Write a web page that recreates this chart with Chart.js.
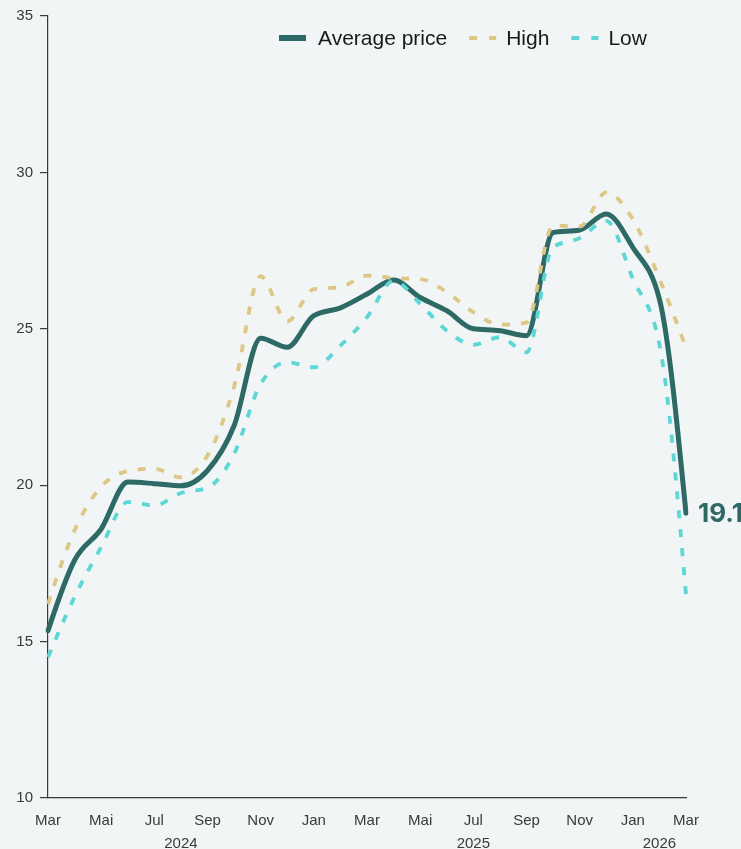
<!DOCTYPE html>
<html>
<head>
<meta charset="utf-8">
<script src="https://cdn.jsdelivr.net/npm/chart.js@4.4.1/dist/chart.umd.min.js"></script>
<style>
  html, body { margin: 0; padding: 0; background: #f1f5f6; }
  #wrap { width: 741px; height: 849px; position: relative; }
</style>
</head>
<body>
<div id="wrap"><canvas id="c"></canvas></div>
<script>
// ---- data ----
const categories = ['2024-03','2024-04','2024-05','2024-06','2024-07','2024-08','2024-09','2024-10','2024-11','2024-12',
  '2025-01','2025-02','2025-03','2025-04','2025-05','2025-06','2025-07','2025-08','2025-09','2025-10','2025-11','2025-12',
  '2026-01','2026-02','2026-03'];
const monthNames = ['Jan','Feb','Mar','Apr','Mai','Jun','Jul','Aug','Sep','Oct','Nov','Dec'];
const averagePrice = [15.35, 17.6, 18.6, 20.1, 20.05, 19.98, 20.47, 21.9, 24.7, 24.41, 25.42, 25.67, 26.11, 26.56, 26.0, 25.58, 25.0, 24.94, 24.78, 28.08, 28.16, 28.67, 27.6, 25.95, 19.1];
const highPrice = [16.2, 18.56, 19.95, 20.45, 20.53, 20.25, 20.95, 23.15, 26.68, 25.24, 26.27, 26.33, 26.7, 26.62, 26.59, 26.17, 25.53, 25.13, 25.2, 28.3, 28.27, 29.36, 28.5, 26.6, 24.4];
const lowPrice = [14.5, 16.43, 18.02, 19.46, 19.35, 19.75, 19.92, 21.0, 23.24, 23.93, 23.77, 24.46, 25.37, 26.54, 25.8, 24.94, 24.49, 24.73, 24.25, 27.61, 27.9, 28.45, 26.6, 24.5, 16.5];
const seriesNames = ['Average price', 'High', 'Low'];
const yTicks = [10, 15, 20, 25, 30, 35];

// year label positions: centre of each year's visible span (in month index units)
const yearInfo = (() => {
  const out = [];
  const years = [...new Set(categories.map(c => c.slice(0, 4)))];
  const last = categories.length - 1;
  years.forEach(y => {
    const idx = categories.map((c, i) => c.startsWith(y) ? i : -1).filter(i => i >= 0);
    const start = idx[0];
    const end = Math.min(idx[idx.length - 1] + 1, last);
    out.push({ value: (start + end) / 2, label: y });
  });
  return out;
})();

const COL_AVG = '#2d6a66';
const COL_HIGH = '#dcc785';
const COL_LOW = '#5dd6d6';
const AXIS = '#3a3a3a';
const FONT = "'Liberation Sans', Arial, sans-serif";

// monotone-X control points, computed from the pixel positions given by the scales
function monotoneControlPoints(pts) {
  const n = pts.length;
  if (n < 3) return;
  const sign = (v) => v < 0 ? -1 : 1;
  const t = new Array(n).fill(0);
  for (let i = 1; i < n - 1; i++) {
    const h0 = pts[i].x - pts[i - 1].x, h1 = pts[i + 1].x - pts[i].x;
    const s0 = (pts[i].y - pts[i - 1].y) / h0, s1 = (pts[i + 1].y - pts[i].y) / h1;
    const p = (s0 * h1 + s1 * h0) / (h0 + h1);
    t[i] = (sign(s0) + sign(s1)) * Math.min(Math.abs(s0), Math.abs(s1), 0.5 * Math.abs(p)) || 0;
  }
  const h0 = pts[1].x - pts[0].x;
  t[0] = (3 * (pts[1].y - pts[0].y) / h0 - t[1]) / 2;
  const hl = pts[n - 1].x - pts[n - 2].x;
  t[n - 1] = (3 * (pts[n - 1].y - pts[n - 2].y) / hl - t[n - 2]) / 2;
  for (let i = 0; i < n; i++) {
    const p = pts[i];
    const dPrev = i > 0 ? (p.x - pts[i - 1].x) / 3 : 0;
    const dNext = i < n - 1 ? (pts[i + 1].x - p.x) / 3 : 0;
    p.cp1x = p.x - dPrev; p.cp1y = p.y - dPrev * t[i];
    p.cp2x = p.x + dNext; p.cp2y = p.y + dNext * t[i];
  }
}

const curvePlugin = {
  id: 'monotoneCurve',
  beforeDatasetsDraw(chart) {
    chart.data.datasets.forEach((ds, i) => {
      const meta = chart.getDatasetMeta(i);
      const line = meta.dataset;
      if (!line) return;
      line.updateControlPoints(chart.chartArea, 'x');
      monotoneControlPoints(meta.data);
      line._path = undefined;
    });
  }
};

const legendPlugin = {
  id: 'customLegend',
  afterDraw(chart) {
    const ctx = chart.ctx;
    ctx.save();
    const y = 38;
    let x = 279;
    ctx.font = '21px ' + FONT;
    ctx.textBaseline = 'middle';
    const items = [
      { name: seriesNames[0], color: COL_AVG, dash: [], width: 6 },
      { name: seriesNames[1], color: COL_HIGH, dash: [8, 12], width: 4 },
      { name: seriesNames[2], color: COL_LOW, dash: [8, 12], width: 4 }
    ];
    items.forEach((it, k) => {
      ctx.beginPath();
      ctx.setLineDash(it.dash);
      ctx.lineWidth = it.width;
      ctx.strokeStyle = it.color;
      ctx.lineCap = 'butt';
      ctx.moveTo(x, y);
      ctx.lineTo(x + 27, y);
      ctx.stroke();
      ctx.setLineDash([]);
      const tx = x + 27 + (k === 0 ? 12 : 10);
      ctx.fillStyle = '#1a1a1a';
      ctx.fillText(it.name, tx, y + 1);
      x = tx + ctx.measureText(it.name).width + 22;
    });
    ctx.restore();
  }
};

const endLabelPlugin = {
  id: 'endLabel',
  afterDatasetsDraw(chart) {
    const meta = chart.getDatasetMeta(0);
    const pt = meta.data[meta.data.length - 1];
    const ctx = chart.ctx;
    ctx.save();
    ctx.font = "bold 26px Inter, 'Liberation Sans', sans-serif";
    ctx.fillStyle = COL_AVG;
    ctx.textBaseline = 'middle';
    ctx.textAlign = 'left';
    ctx.fillText(String(averagePrice[averagePrice.length - 1]), pt.x + 12, pt.y + 1);
    ctx.restore();
  }
};

Chart.defaults.font.family = FONT;
Chart.defaults.color = AXIS;

new Chart(document.getElementById('c'), {
  type: 'line',
  data: {
    labels: categories,
    datasets: [
      { label: seriesNames[0], data: averagePrice, borderColor: COL_AVG, borderWidth: 5,
        borderCapStyle: 'round', borderJoinStyle: 'round', order: 3 },
      { label: seriesNames[1], data: highPrice, borderColor: COL_HIGH, borderWidth: 3.8,
        borderDash: [8, 11], order: 2 },
      { label: seriesNames[2], data: lowPrice, borderColor: COL_LOW, borderWidth: 3.8,
        borderDash: [8, 11], order: 1 }
    ]
  },
  options: {
    responsive: true,
    maintainAspectRatio: false,
    animation: false,
    layout: { padding: { top: 15, right: 55, left: 0, bottom: 0 } },
    elements: {
      point: { radius: 0, hoverRadius: 0 },
      line: { cubicInterpolationMode: 'monotone', fill: false }
    },
    plugins: { legend: { display: false }, tooltip: { enabled: false } },
    scales: {
      x: {
        type: 'category',
        position: 'bottom',
        weight: 0,
        offset: false,
        grid: { display: false, drawTicks: false },
        border: { display: true, color: AXIS, width: 1.2 },
        ticks: {
          autoSkip: false, maxRotation: 0, padding: 14,
          font: { size: 15 }, color: AXIS,
          callback: function (v, i) {
            if (i % 2 !== 0) return null;
            return monthNames[parseInt(categories[i].slice(5, 7), 10) - 1];
          }
        },
        afterFit: (a) => { a.height = 33; }
      },
      xYear: {
        type: 'linear',
        position: 'bottom',
        weight: 1,
        min: 0,
        max: categories.length - 1,
        grid: { display: false, drawTicks: false },
        border: { display: false },
        ticks: {
          padding: 3.5, maxRotation: 0, autoSkip: false,
          font: { size: 15 }, color: AXIS,
          callback: (v) => { const f = yearInfo.find(y => y.value === v); return f ? f.label : ''; }
        },
        afterBuildTicks: (a) => { a.ticks = yearInfo.map(y => ({ value: y.value })); },
        afterFit: (a) => { a.height = 18; }
      },
      y: {
        min: yTicks[0],
        max: yTicks[yTicks.length - 1],
        grid: { display: true, drawOnChartArea: false, drawTicks: true, tickLength: 8, color: AXIS, lineWidth: 1.2 },
        border: { display: true, color: AXIS, width: 1.2 },
        ticks: { stepSize: 5, padding: 7, font: { size: 15 }, color: AXIS },
        afterBuildTicks: (a) => { a.ticks = yTicks.map(v => ({ value: v })); },
        afterFit: (a) => { a.width = 48; }
      }
    }
  },
  plugins: [curvePlugin, legendPlugin, endLabelPlugin]
});
</script>
</body>
</html>
